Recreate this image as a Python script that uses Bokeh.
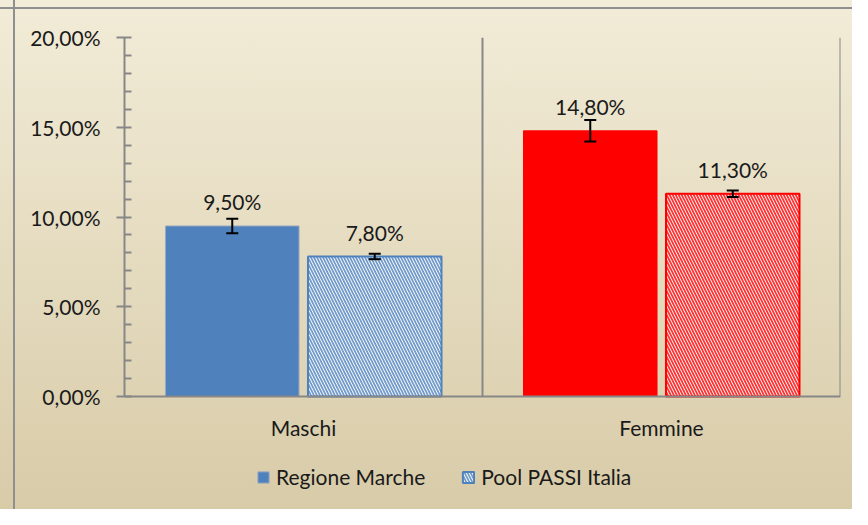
from bokeh.plotting import figure
from bokeh.models import (ColumnDataSource, FactorRange, Range1d, FixedTicker,
                          CustomJSTickFormatter, Whisker, TeeHead, Legend,
                          LegendItem, LabelSet)
from bokeh.transform import dodge
from bokeh.core.properties import value
from bokeh.embed import file_html
from bokeh.resources import INLINE

# ---- data ----
categories = ["Maschi", "Femmine"]
series_names = ["Regione Marche", "Pool PASSI Italia"]
regione_values = [9.5, 14.8]
regione_err = [0.4, 0.6]
pool_values = [7.8, 11.3]
pool_err = [0.15, 0.18]
category_colors = ["#4F81BD", "#FF0000"]
y_ticks = [0, 5, 10, 15, 20]
y_minor_ticks = [1, 2, 3, 4, 6, 7, 8, 9, 11, 12, 13, 14, 16, 17, 18, 19]
y_min, y_max = 0, 20

FONT = "Lato"
FS = "21px"
GRAY = "#878787"

PX_PER_UNIT = 359 / 20
BOTTOM_EXTRA = 113  # px below 0 reserved for axis labels and legend


def fmt(v):
    return f"{v:.2f}".replace(".", ",") + "%"


src_r = ColumnDataSource(dict(
    x=categories, top=regione_values,
    lower=[v - e for v, e in zip(regione_values, regione_err)],
    upper=[v + e for v, e in zip(regione_values, regione_err)],
    color=category_colors,
    line=["#9AA9BE", "#FF0000"],
    label=[fmt(v) for v in regione_values],
))
src_p = ColumnDataSource(dict(
    x=categories, top=pool_values,
    lower=[v - e for v, e in zip(pool_values, pool_err)],
    upper=[v + e for v, e in zip(pool_values, pool_err)],
    color=category_colors,
    label=[fmt(v) for v in pool_values],
))
src_div = ColumnDataSource(dict(x=categories, y0=[y_min] * 2, y1=[y_max] * 2))

p = figure(width=852, height=509, output_backend="svg", toolbar_location=None,
           x_range=FactorRange(*categories, range_padding=0),
           y_range=Range1d(y_min - BOTTOM_EXTRA / PX_PER_UNIT, y_max),
           min_border_left=124, min_border_right=12, min_border_top=37,
           min_border_bottom=0,
           styles={"background": (
               "linear-gradient(to right, transparent 13px, #8f8f8f 13px, #8f8f8f 15px, transparent 15px),"
               "linear-gradient(to bottom, transparent 7px, #8f8f8f 7px, #8f8f8f 9px, transparent 9px),"
               "linear-gradient(to bottom, #F2ECD8, #D8CBA8)")})
p.background_fill_color = None
p.border_fill_color = None
p.outline_line_color = None
p.grid.visible = False

OFF = 0.199
W = 0.373

# category dividers (right edge of each category)
p.segment(x0=dodge("x", 0.5, range=p.x_range), y0="y0",
          x1=dodge("x", 0.5, range=p.x_range), y1="y1",
          source=src_div, line_color=GRAY, line_width=2)

r1 = p.vbar(x=dodge("x", -OFF, range=p.x_range), top="top", width=W, source=src_r,
            fill_color="color", line_color="line", line_width=1)
r2 = p.vbar(x=dodge("x", OFF, range=p.x_range), top="top", width=W, source=src_p,
            fill_color="white", line_color="color", line_width=2,
            hatch_pattern="\\", hatch_color="color", hatch_scale=6,
            hatch_weight=1.8, hatch_alpha=0.8)

for src, off in ((src_r, -OFF), (src_p, OFF)):
    w = Whisker(base=dodge("x", off, range=p.x_range), upper="upper", lower="lower",
                source=src, line_color="black", line_width=2, level="overlay",
                upper_head=TeeHead(size=12, line_width=2, line_color="black"),
                lower_head=TeeHead(size=12, line_width=2, line_color="black"))
    p.add_layout(w)
    lbl = LabelSet(x=dodge("x", off, range=p.x_range), y="top", text="label",
                   source=src, y_offset=24, text_align="center",
                   text_baseline="middle", text_font=value(FONT),
                   text_font_size=value(FS), text_color="#1a1a1a")
    p.add_layout(lbl)

# y axis
ya = p.yaxis[0]
ya.bounds = (y_min, y_max)
ya.ticker = FixedTicker(ticks=y_ticks, minor_ticks=y_minor_ticks)
ya.formatter = CustomJSTickFormatter(code="return tick.toFixed(2).replace('.', ',') + '%';")
ya.axis_line_color = GRAY
ya.axis_line_width = 2
ya.major_tick_line_color = GRAY
ya.major_tick_line_width = 2
ya.major_tick_in = 7
ya.major_tick_out = 8
ya.minor_tick_line_color = GRAY
ya.minor_tick_line_width = 2
ya.minor_tick_in = 7
ya.minor_tick_out = 0
ya.major_label_standoff = 16
ya.major_label_text_font = FONT
ya.major_label_text_font_size = FS
ya.major_label_text_color = "#1a1a1a"

# x axis, pinned at 0 inside the extended frame
xa = p.xaxis[0]
xa.fixed_location = y_min
xa.axis_line_color = GRAY
xa.axis_line_width = 2
xa.major_tick_line_color = None
xa.minor_tick_line_color = None
xa.major_tick_out = 0
xa.major_label_standoff = 18
xa.major_label_text_font = FONT
xa.major_label_text_font_size = FS
xa.major_label_text_color = "#1a1a1a"

legend = Legend(items=[
    LegendItem(label=series_names[0], renderers=[r1], index=0),
    LegendItem(label=series_names[1], renderers=[r2], index=0),
], orientation="horizontal", location=(132, 20),
    glyph_width=14, glyph_height=14, label_standoff=6, spacing=36,
    padding=0, margin=0, border_line_color=None, background_fill_alpha=0,
    label_text_font=FONT, label_text_font_size=FS, label_text_color="#1a1a1a")
p.add_layout(legend)

open("out.html", "w").write(file_html(p, INLINE))
